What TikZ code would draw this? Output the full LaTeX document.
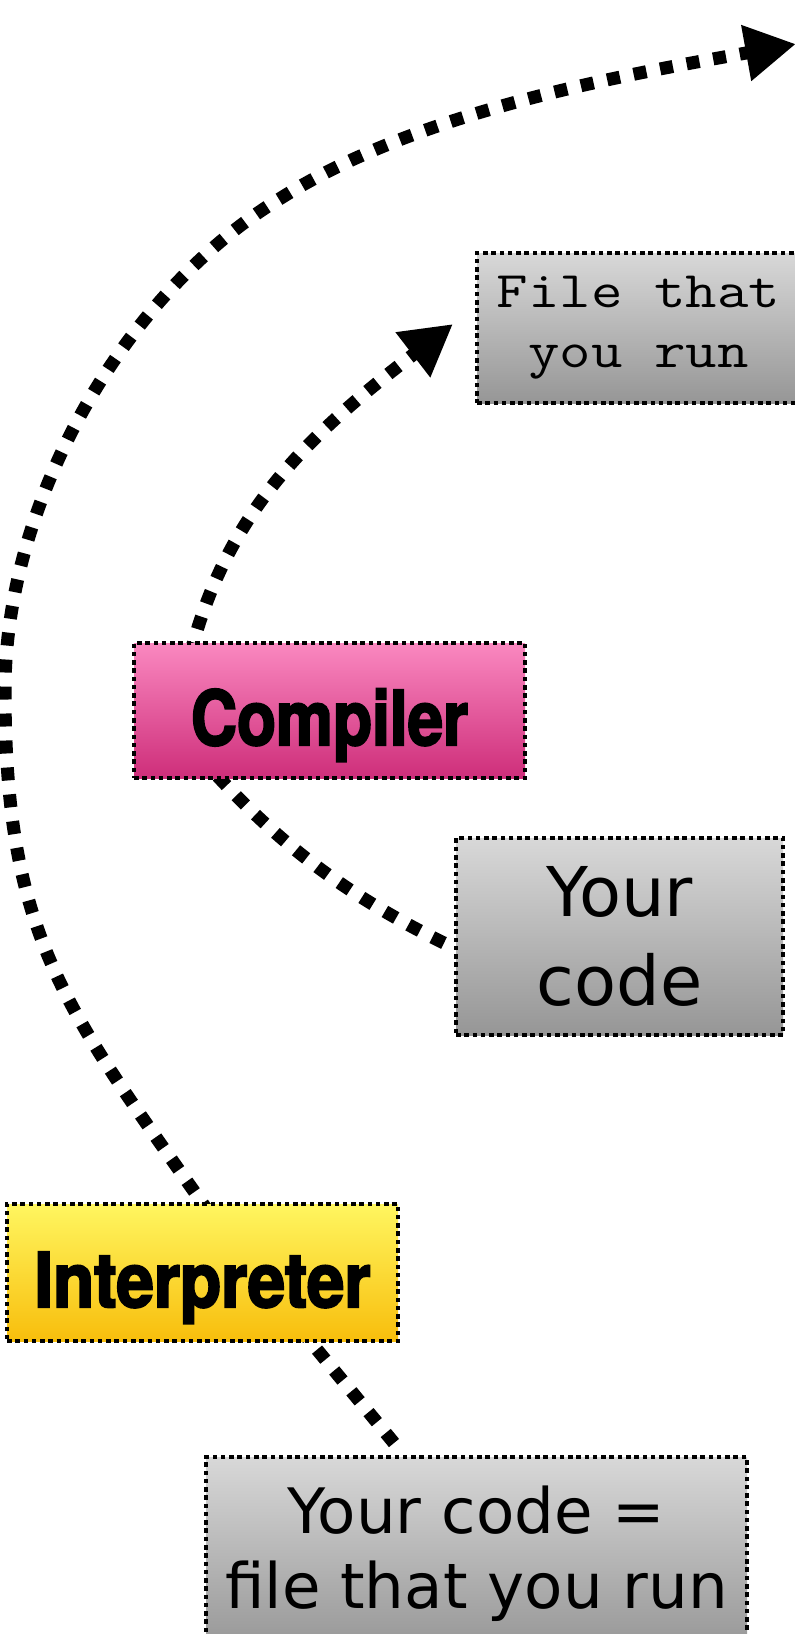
\documentclass[tikz,border=0pt]{standalone}
\usepackage{fontspec}
\usepackage{graphicx}
\usetikzlibrary{arrows.meta}

% label fonts
\newfontfamily\plainsans{DejaVu Sans}
\newfontfamily\heavysans{TeX Gyre Heros}[FakeStretch=0.84, BoldFeatures={FakeBold=2.6}]

% box fills
\definecolor{greytop}{RGB}{216,216,216}
\definecolor{greybot}{RGB}{150,150,150}
\definecolor{pinktop}{RGB}{250,136,192}
\definecolor{pinkbot}{RGB}{206,46,122}
\definecolor{yellowtop}{RGB}{255,246,96}
\definecolor{yellowbot}{RGB}{248,190,12}

\tikzset{
  boxline/.style={draw=black, line width=3.4pt, dash pattern=on 3.4pt off 2.8pt,
    inner sep=0pt, align=center},
  greybox/.style={boxline, top color=greytop, bottom color=greybot},
  pinkbox/.style={boxline, top color=pinktop, bottom color=pinkbot},
  yellowbox/.style={boxline, top color=yellowtop, bottom color=yellowbot},
  toolname/.style={font=\heavysans\bfseries\fontsize{57}{60}\selectfont,
    text height=52pt, text depth=0pt},
  flow/.style={line width=9.75pt, dash pattern=on 9.75pt off 10.5pt},
  flowhead/.style={flow, -{Triangle[length=38pt,width=40pt]}},
}

\begin{document}
\begin{tikzpicture}[x=0.75pt,y=-0.75pt]
\useasboundingbox (0,0) rectangle (794,1634);

% end points of the connectors
\coordinate (bigstart) at (210,1214);
\coordinate (bigleft)  at (5,690);
\coordinate (bigmid)   at (281,198);
\coordinate (bigtip)   at (796,44);
\coordinate (compstart) at (190,655);
\coordinate (comptip)   at (453,324);
\coordinate (srcend)    at (444,943);
\coordinate (compin)    at (212,770);
\coordinate (interpin)  at (305,1335);
\coordinate (bothend)   at (394,1443);

% connectors, drawn first so the boxes cover their ends
\draw[flowhead] (bigstart) .. controls (67,1010) and (5,940) .. (bigleft)
  .. controls (5,500) and (125,292) .. (bigmid)
  .. controls (420,110) and (630,74) .. (bigtip);
\draw[flowhead] (compstart) .. controls (228,509) and (310,434) .. (comptip);
\draw[flow] (srcend) .. controls (348,896) and (280,845) .. (compin);
\draw[flow] (bothend) -- (interpin);

% boxes
\node[greybox, font=\ttfamily\fontsize{38.5}{45}\selectfont,
  minimum width=323*0.75pt, minimum height=150*0.75pt] (file) at (638.5,328)
  {\scalebox{1.19}[1]{File that}\\\scalebox{1.19}[1]{you run}};
\node[pinkbox, toolname, minimum width=391*0.75pt, minimum height=135*0.75pt] (compiler) at (329.5,710.5)
  {Compiler};
\node[greybox, font=\plainsans\fontsize{51.5}{67}\selectfont,
  minimum width=327*0.75pt, minimum height=197*0.75pt] (code) at (619.5,936.5)
  {Your\\code};
\node[yellowbox, toolname, minimum width=391*0.75pt, minimum height=137*0.75pt] (interp) at (202.5,1272.5)
  {\scalebox{1.055}[1]{Interpreter}};
\node[greybox, font=\plainsans\fontsize{47}{56}\selectfont,
  minimum width=541*0.75pt, minimum height=194*0.75pt] (both) at (476.5,1554)
  {Your code =\\file that you run};
\end{tikzpicture}
\end{document}
